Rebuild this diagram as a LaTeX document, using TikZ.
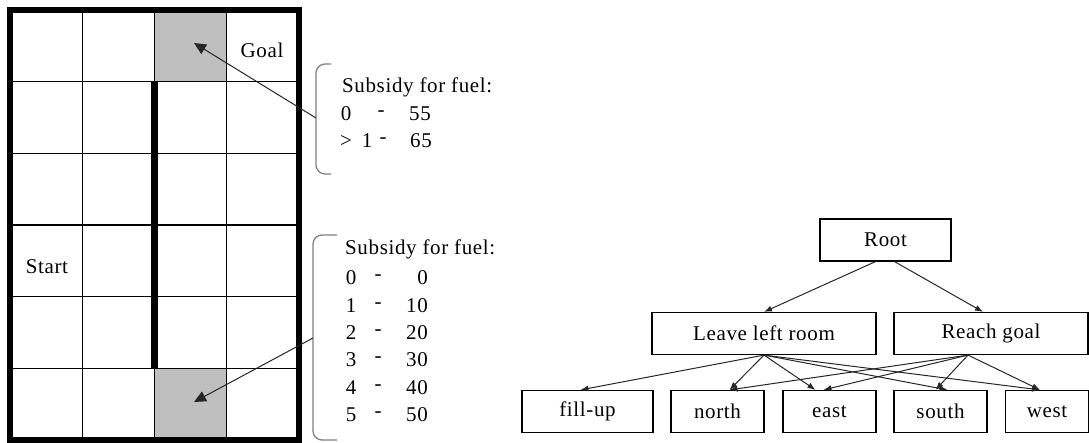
\documentclass[tikz,border=0pt]{standalone}
\usepackage{fontspec}
\setmainfont[LetterSpace=3]{Liberation Serif}
\usepackage{tikz}
\usetikzlibrary{arrows.meta}

\begin{document}
\begin{tikzpicture}
  [x=1pt,y=-1pt,font=\fontsize{21}{25}\selectfont,
   every node/.style={inner sep=0pt},
   box/.style={draw,line width=1.2pt,minimum height=42pt},
   cellline/.style={line width=1.2pt},
   brc/.style={draw=gray,line width=1.3pt,rounded corners=9pt},
   arr/.style={-{Latex[length=8pt,width=6pt]},line width=1pt,black!85},
   bigarr/.style={-{Triangle[length=12pt,width=11pt]},line width=1pt,black!85}]
  \useasboundingbox (0,0) rectangle (1089,443);
  % grid
  \fill[gray!50] (154.5,10) rectangle (226.75,81.7);
  \fill[gray!50] (154.5,368.3) rectangle (226.75,440);
  \foreach \i in {1,2,3}
  \draw[cellline] (10+72.25*\i,10) -- (10+72.25*\i,440);
  \foreach \j in {1,...,5}
  \draw[cellline] (10,10+71.67*\j) -- (299,10+71.67*\j);
  \draw[line width=7pt] (154.5,81.7) -- (154.5,368.3);
  \draw[line width=6pt] (10,10) rectangle (299,440);
  \node (goal) at (262,50) {Goal};
  \node (start) at (47,267) {Start};
  % braces
  \draw[brc] (331,64) -- (316,64) -- (316,174) -- (331,174);
  \draw[brc] (337,235) -- (313,235) -- (313,440) -- (337,440);
  \coordinate (tip1) at (316,118);
  \coordinate (tip2) at (313,338);
  \coordinate (g1) at (194,43);
  \coordinate (g2) at (194,402);
  \draw[bigarr] (tip1) -- (g1);
  \draw[bigarr] (tip2) -- (g2);
  \node[anchor=west] (sub1) at (342,87) {Subsidy for fuel:};
  \node (a0) at (346,114) {0};
  \node (a1) at (381,114) {-};
  \node (a2) at (420,114) {55};
  \node (b0) at (346,141) {>};
  \node (b1) at (367,141) {1};
  \node (b2) at (383,141) {-};
  \node (b3) at (421,141) {65};
  \node[anchor=west] (sub2) at (345,249) {Subsidy for fuel:};
  \foreach \d/\v in {0/0,1/10,2/20,3/30,4/40,5/50} {
    \node (d\d) at (351,278+27.3*\d) {\d};
    \node (h\d) at (378,278+27.3*\d) {-};
    \node[anchor=east] (v\d) at (428,278+27.3*\d) {\v};
  }
  % tree
  \node[box,minimum width=131pt] (root) at (885.5,240) {Root};
  \node[box,minimum width=224pt] (leave) at (764,333.5) {Leave left room};
  \node[box,minimum width=194pt] (reach) at (991,333.5) {Reach goal};
  \node[box,minimum width=131pt] (fillup) at (587.5,411.5) {fill-up};
  \node[box,minimum width=93pt] (mnorth) at (717.5,411.5) {north};
  \node[box,minimum width=93pt] (meast) at (829.5,411.5) {east};
  \node[box,minimum width=93pt] (msouth) at (940.5,411.5) {south};
  \node[box,minimum width=83pt] (mwest) at (1047,411.5) {west};
  \draw[arr] ([xshift=-10pt]root.south) -- (leave.north);
  \draw[arr] ([xshift=9pt]root.south) -- ([xshift=-8pt]reach.north);
  \coordinate (lb) at (leave.south);
  \coordinate (rb) at ([xshift=-23pt]reach.south);
  \foreach \from/\to/\dx in {lb/fillup/-7,lb/mnorth/12,lb/meast/-14,lb/msouth/7,lb/mwest/-7,rb/mnorth/12,rb/meast/-6,rb/msouth/-5,rb/mwest/-7}
  \draw[arr] (\from) -- ([xshift=\dx pt]\to.north);
\end{tikzpicture}
\end{document}
